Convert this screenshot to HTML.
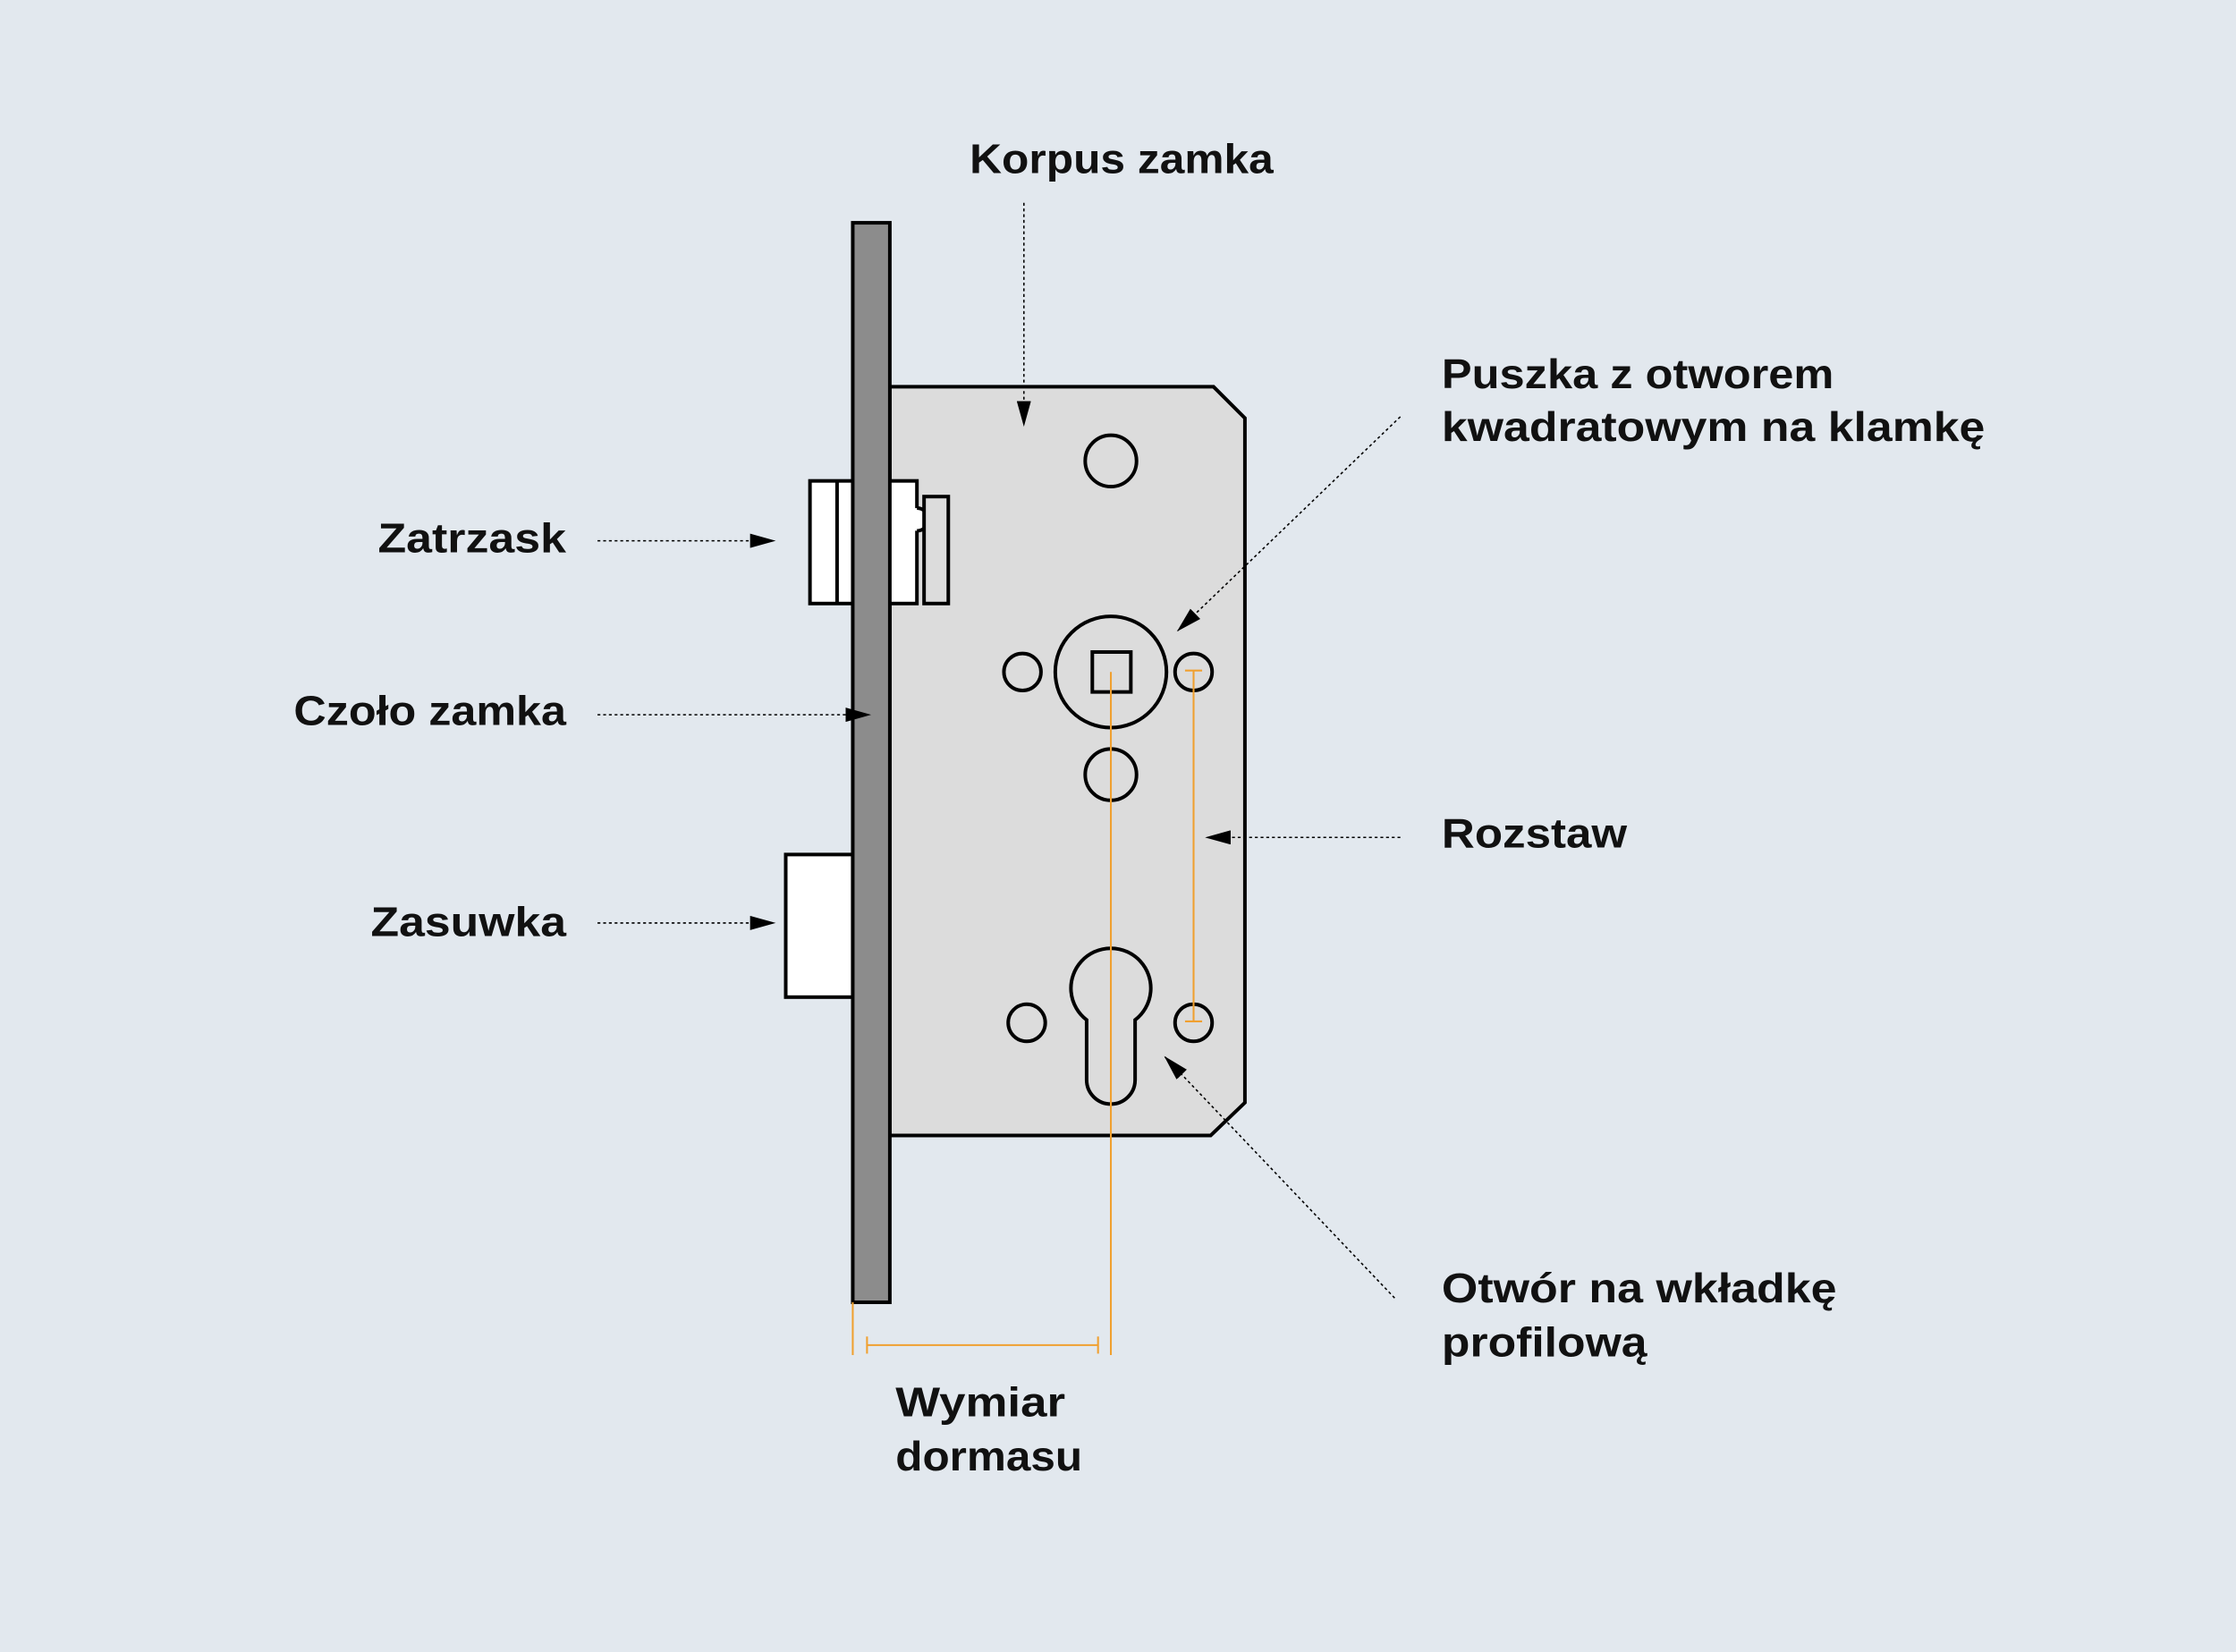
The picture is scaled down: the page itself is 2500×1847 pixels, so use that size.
<!DOCTYPE html>
<html><head><meta charset="utf-8"><style>
html,body{margin:0;padding:0;background:#e2e8ee;}
svg{display:block;}
text{font-family:"Liberation Sans",sans-serif;font-weight:bold;font-size:29px;fill:#111;}
</style></head><body>
<svg width="2500" height="1847" viewBox="0 0 1568 1158" xmlns="http://www.w3.org/2000/svg">
<defs>
<marker id="ar" markerWidth="18" markerHeight="10" refX="17" refY="5" orient="auto" markerUnits="userSpaceOnUse">
<path d="M0,0 L18,5 L0,10 Z" fill="#000"/></marker>
</defs>
<rect width="1568" height="1158" fill="#e2e8ee"/>
<path d="M624 271 L851 271 L873 293 L873 773 L849 796 L624 796 Z" fill="#dcdcdc" stroke="#000" stroke-width="2.5"/>
<rect x="568" y="337" width="75" height="86" fill="#fff" stroke="#000" stroke-width="2.5"/>
<line x1="587" y1="337" x2="587" y2="423" stroke="#000" stroke-width="2.5"/>
<circle cx="643" cy="364" r="8" fill="#fff"/>
<path d="M643 356 A8 8 0 0 1 643 372" fill="none" stroke="#000" stroke-width="2.5"/>
<rect x="648" y="348" width="17" height="75" fill="#dcdcdc" stroke="#000" stroke-width="2.5"/>
<rect x="551" y="599" width="47" height="100" fill="#fff" stroke="#000" stroke-width="2.5"/>
<rect x="598" y="156" width="26" height="757" fill="#8c8c8c" stroke="#000" stroke-width="2.5"/>
<g fill="none" stroke="#000" stroke-width="2.5">
<circle cx="779" cy="323" r="18"/>
<circle cx="717" cy="471" r="13"/>
<circle cx="779" cy="471" r="39"/>
<rect x="766" y="457" width="27" height="28"/>
<circle cx="779" cy="543" r="18"/>
<circle cx="837" cy="471" r="13"/>
<circle cx="720" cy="717" r="13"/>
<circle cx="837" cy="717" r="13"/>
<path d="M762 715 A28 28 0 1 1 796 715 L796 757 A17 17 0 0 1 762 757 Z"/>
</g>
<g stroke="#f0a030" stroke-width="1.3" fill="none">
<line x1="779" y1="471" x2="779" y2="950"/>
<line x1="837" y1="470" x2="837" y2="716"/>
<line x1="831" y1="470" x2="843" y2="470"/>
<line x1="831" y1="716" x2="843" y2="716"/>
<line x1="598" y1="913" x2="598" y2="950"/>
<line x1="608" y1="943" x2="770" y2="943"/>
<line x1="608" y1="937" x2="608" y2="949"/>
<line x1="770" y1="937" x2="770" y2="949"/>
</g>
<g stroke="#000" stroke-width="1" stroke-dasharray="2,2" fill="none">
<line x1="718" y1="142" x2="718" y2="298" marker-end="url(#ar)"/>
<line x1="419" y1="379" x2="543" y2="379" marker-end="url(#ar)"/>
<line x1="419" y1="501" x2="610" y2="501" marker-end="url(#ar)"/>
<line x1="419" y1="647" x2="543" y2="647" marker-end="url(#ar)"/>
<line x1="982" y1="292" x2="826" y2="442" marker-end="url(#ar)"/>
<line x1="982" y1="587" x2="846" y2="587" marker-end="url(#ar)"/>
<line x1="978" y1="910" x2="817" y2="741" marker-end="url(#ar)"/>
</g>
<text x="680" y="121" textLength="213" lengthAdjust="spacingAndGlyphs">Korpus zamka</text>
<text x="265" y="387" textLength="132" lengthAdjust="spacingAndGlyphs">Zatrzask</text>
<text x="206" y="508" textLength="191" lengthAdjust="spacingAndGlyphs">Czoło zamka</text>
<text x="260" y="656" textLength="137" lengthAdjust="spacingAndGlyphs">Zasuwka</text>
<text x="1011" y="272" textLength="275" lengthAdjust="spacingAndGlyphs">Puszka z otworem</text>
<text x="1011" y="309" textLength="381" lengthAdjust="spacingAndGlyphs">kwadratowym na klamkę</text>
<text x="1011" y="594" textLength="130" lengthAdjust="spacingAndGlyphs">Rozstaw</text>
<text x="1011" y="913" textLength="277" lengthAdjust="spacingAndGlyphs">Otwór na wkładkę</text>
<text x="1011" y="951" textLength="144" lengthAdjust="spacingAndGlyphs">profilową</text>
<text x="628" y="993" textLength="119" lengthAdjust="spacingAndGlyphs">Wymiar</text>
<text x="628" y="1031" textLength="131" lengthAdjust="spacingAndGlyphs">dormasu</text>
</svg>
</body></html>
